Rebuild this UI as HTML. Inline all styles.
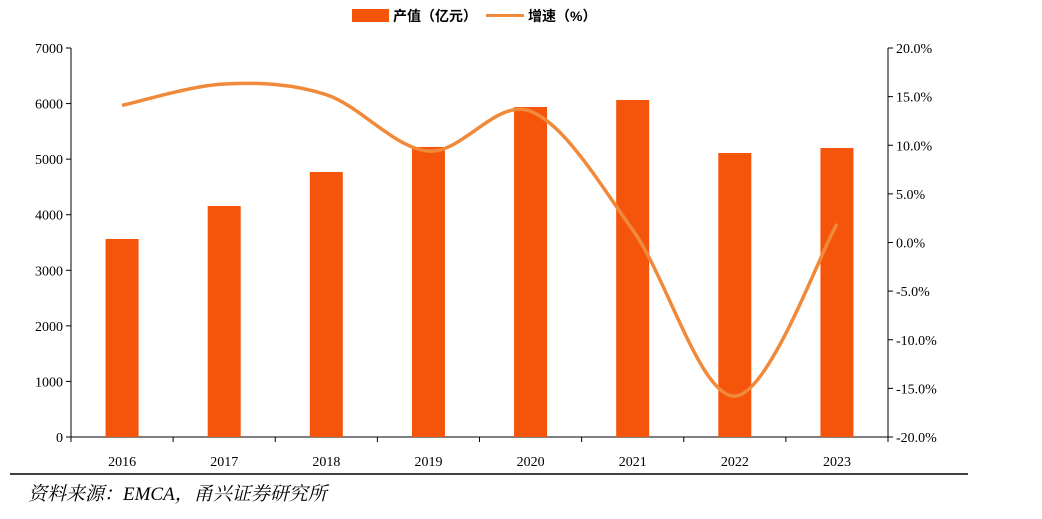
<!DOCTYPE html>
<html><head><meta charset="utf-8">
<style>
body{margin:0;background:#fff;width:1042px;height:514px;overflow:hidden;}
svg text{font-family:"Liberation Serif","Noto Serif CJK SC",serif;}
</style></head>
<body>
<svg id="chart" width="1042" height="514" xmlns="http://www.w3.org/2000/svg">
<g id="legend">
  <rect x="352" y="9" width="37" height="13" fill="#F5540B"/>
  <text x="393" y="21" font-size="14" font-weight="bold" fill="#000" style='font-family:"Liberation Sans","Noto Sans CJK SC",sans-serif'>产值（亿元）</text>
  <line x1="486" y1="15.5" x2="524" y2="15.5" stroke="#F0893A" stroke-width="3"/>
  <text x="528" y="21" font-size="14" font-weight="bold" fill="#000" style='font-family:"Liberation Sans","Noto Sans CJK SC",sans-serif'>增速（%）</text>
</g>
<g id="axes"></g>
<g id="bars"></g>
<g id="line"></g>
<line x1="10" y1="474" x2="968" y2="474" stroke="#000" stroke-width="1.5"/>
<text x="28" y="500" font-size="19" font-style="italic" fill="#000">资料来源：EMCA，甬兴证券研究所</text>
</svg>
<script>
const categories=["2016","2017","2018","2019","2020","2021","2022","2023"];
const outputValues=[3563,4157,4769,5219,5938,6064,5111,5200];
const growthValues=[14.1,16.3,15.2,9.4,13.5,1.3,-15.8,1.9];
const leftTicks=[0,1000,2000,3000,4000,5000,6000,7000];
const rightTicks=[-20,-15,-10,-5,0,5,10,15,20];

const NS="http://www.w3.org/2000/svg";
const X0=71,X1=888,YT=48,YB=437;
const band=(X1-X0)/categories.length;
const xc=i=>X0+band*(i+0.5);
const yL=v=>YB-(v/7000)*(YB-YT);
const yR=v=>YB-((v+20)/40)*(YB-YT);
function mk(tag,attrs,parent,txt){const e=document.createElementNS(NS,tag);for(const k in attrs)e.setAttribute(k,attrs[k]);if(txt!==undefined)e.textContent=txt;parent.appendChild(e);return e;}
const axes=document.getElementById('axes'),bars=document.getElementById('bars'),lineG=document.getElementById('line');
let a=mk('line',{x1:X0,y1:YT,x2:X0,y2:YB,stroke:'#000'},axes);


leftTicks.forEach(t=>{const y=yL(t);
 let tk=mk('line',{x1:X0-5,y1:y,x2:X0,y2:y,stroke:'#000'},axes);
 
 
 let tx=mk('text',{x:X0-8,y:y+5,'font-size':14,'text-anchor':'end',fill:'#000'},axes,String(t));
 
 
});
a=mk('line',{x1:X1,y1:YT,x2:X1,y2:YB,stroke:'#000'},axes);


rightTicks.forEach(t=>{const y=yR(t);
 let tk=mk('line',{x1:X1,y1:y,x2:X1+5,y2:y,stroke:'#000'},axes);
 
 
 let tx=mk('text',{x:X1+8,y:y+5,'font-size':14,fill:'#000'},axes,t.toFixed(1)+'%');
 
 
});
a=mk('line',{x1:X0,y1:YB,x2:X1,y2:YB,stroke:'#000'},axes);


for(let i=0;i<=categories.length;i++){const x=X0+band*i;
 let tk=mk('line',{x1:x,y1:YB,x2:x,y2:YB+5,stroke:'#000'},axes);
 
 
}
categories.forEach((c,i)=>{
 let tx=mk('text',{x:xc(i),y:466,'font-size':14,'text-anchor':'middle',fill:'#000'},axes,c);
 
 
 const bw=33,y=yL(outputValues[i]);
 let r=mk('rect',{x:xc(i)-bw/2,y:y,width:bw,height:YB-y,fill:'#F5540B'},bars);
 
 
});
const pts=growthValues.map((v,i)=>[xc(i),yR(v)]);
let d='M'+pts[0][0]+','+pts[0][1];
for(let i=0;i<pts.length-1;i++){
 const p0=pts[Math.max(0,i-1)],p1=pts[i],p2=pts[i+1],p3=pts[Math.min(pts.length-1,i+2)];
 const t=6;
 d+=' C'+(p1[0]+(p2[0]-p0[0])/t)+','+(p1[1]+(p2[1]-p0[1])/t)+' '+(p2[0]-(p3[0]-p1[0])/t)+','+(p2[1]-(p3[1]-p1[1])/t)+' '+p2[0]+','+p2[1];
}
const path=mk('path',{d:d,fill:'none',stroke:'#F0893A','stroke-width':3.5},lineG);


</script>
</body></html>
